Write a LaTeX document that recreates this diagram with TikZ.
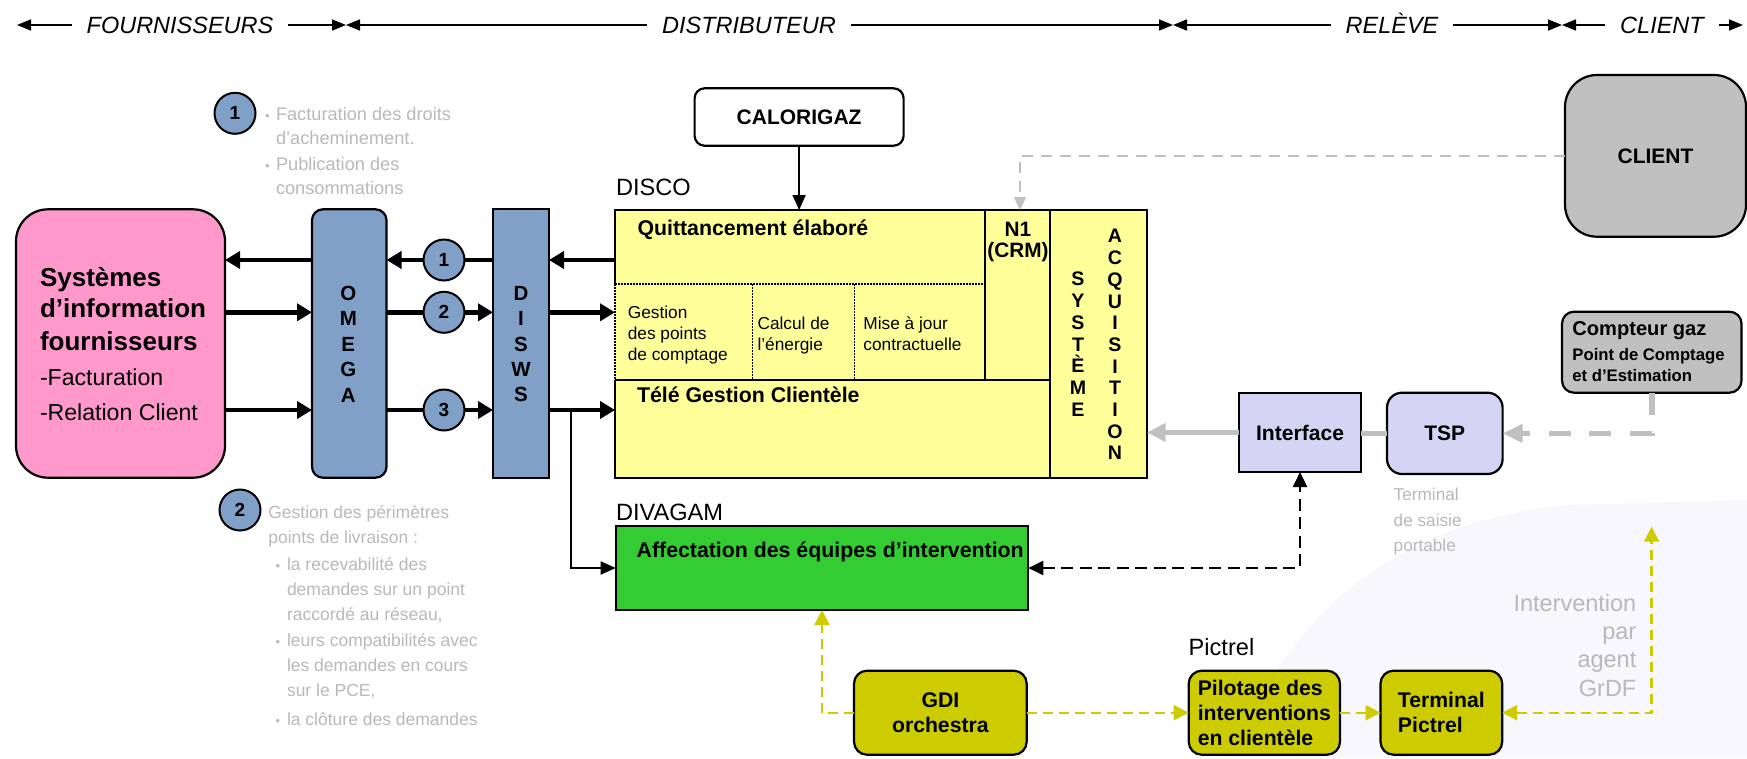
\documentclass[tikz,border=0pt]{standalone}
\usepackage{fontspec}
\setmainfont{Liberation Sans}
\usetikzlibrary{arrows.meta,calc}

\definecolor{pinkbox}{RGB}{255,153,204}
\definecolor{steel}{RGB}{128,160,200}
\definecolor{discoyel}{RGB}{255,255,153}
\definecolor{greenbox}{RGB}{51,204,51}
\definecolor{olivebox}{RGB}{204,204,0}
\definecolor{lavbox}{RGB}{212,212,244}
\definecolor{greybox}{RGB}{192,192,192}
\definecolor{greyline}{RGB}{192,192,192}
\definecolor{greytext}{RGB}{185,185,185}
\definecolor{swoosh}{RGB}{247,247,252}

\newcommand\fsz[2]{\fontsize{#1}{#2}\selectfont}

\tikzset{
  ytip/.tip={Triangle[length=15pt,width=15pt]}
}

\begin{document}
\begin{tikzpicture}[x=1pt,y=-1pt,
  every node/.style={inner sep=0pt,outer sep=0pt},
  box/.style={draw=black,line width=2.2pt,inner sep=0pt,outer sep=0pt,anchor=north west},
  olive/.style={box,fill=olivebox,rounded corners=13pt,minimum height=84pt,
    font=\bfseries\fsz{21.2}{25}},
  lbl/.style={anchor=base west,font=\fsz{23.6}{28}},
  btxt/.style={anchor=base west,font=\bfseries\fsz{21.3}{25}},
  ctxt/.style={anchor=base west,font=\fsz{17.3}{21}},
  gtxt/.style={anchor=base west,text=greytext,font=\fsz{17.5}{21}},
  bul/.style={anchor=base west,text=greytext,font=\fsz{13}{13}},
  hdr/.style={anchor=base,font=\itshape\fsz{23.5}{28},inner xsep=15pt},
  vlet/.style={align=center,font=\bfseries\fsz{20.5}{25.4}},
  numcirc/.style={circle,draw=black,line width=2pt,fill=steel,minimum size=41pt,
    font=\bfseries\fsz{19}{19}},
  harrow/.style={line width=1.6pt,-{Triangle[length=14pt,width=11pt]}},
  big/.style={line width=4.9pt,-{Triangle[length=15pt,width=17pt]}},
  thin/.style={line width=1.8pt,-{Triangle[length=15pt,width=13pt]}},
  blkdash/.style={line width=2.2pt,dash pattern=on 12pt off 6.5pt,
    {Triangle[length=15pt,width=14pt]}-{Triangle[length=15pt,width=14pt]}},
  gthick/.style={line width=5.5pt,draw=greyline},
  gdash/.style={line width=2.2pt,draw=greyline,dash pattern=on 11pt off 8pt,
    -{Triangle[length=13pt,width=12pt]}},
  ydash/.style={line width=2.4pt,draw=olivebox,dash pattern=on 10pt off 6pt},
  dotl/.style={line width=1.5pt,dash pattern=on 1.5pt off 1.5pt},
  solidl/.style={line width=2.2pt}
]
% page and background sweep
\fill[white] (0,0) rectangle (1747,758);
\useasboundingbox (0,0) rectangle (1747,758);
\fill[swoosh] (1230,758) .. controls (1290,610) and (1400,520) .. (1570,505)
  -- (1747,500) -- (1747,758) -- cycle;

% ---------- header bar ----------
\coordinate (s0) at (17,25);
\coordinate (s1) at (346,25);
\coordinate (s2) at (1173,25);
\coordinate (s3) at (1562,25);
\coordinate (s4) at (1743,25);
\node[hdr] (hF) at (180,33.5) {FOURNISSEURS};
\node[hdr] (hD) at (749,33.5) {DISTRIBUTEUR};
\node[hdr] (hR) at (1392,33.5) {RELÈVE};
\node[hdr] (hC) at (1662,33.5) {CLIENT};
\draw[harrow] (hF.west |- s0) -- (s0);
\draw[harrow] (hF.east |- s1) -- (s1);
\draw[harrow] (hD.west |- s1) -- (s1);
\draw[harrow] (hD.east |- s2) -- (s2);
\draw[harrow] (hR.west |- s2) -- (s2);
\draw[harrow] (hR.east |- s3) -- (s3);
\draw[harrow] (hC.west |- s3) -- (s3);
\draw[harrow] (hC.east |- s4) -- (s4);

% ---------- legend 1 ----------
\node[numcirc] (leg1) at (235,113.3) {1};
\node[bul] (la-b1) at (265,120) {•};
\node[bul] (la-b2) at (265,170) {•};
\foreach \t/\yy [count=\i] in {Facturation des droits/120, d’acheminement./144.5,
    Publication des/170, consommations/194}
  \node[gtxt,font=\fsz{18.2}{22}] (la\i) at (276,\yy) {\t};

% ---------- legend 2 ----------
\node[numcirc] (leg2) at (240,510) {2};
\node[gtxt] (lb1) at (268.3,518.3) {Gestion des périmètres};
\node[gtxt] (lb2) at (268.3,543.3) {points de livraison :};
\node[bul] (lb-b1) at (275.5,570.7) {•};
\node[bul] (lb-b2) at (275.5,646.7) {•};
\node[bul] (lb-b3) at (275.5,725) {•};
\foreach \t/\yy [count=\i] in {la recevabilité des/570.7, demandes sur un point/595,
    {raccordé au réseau,}/620, leurs compatibilités avec/646.7,
    les demandes en cours/671.7, {sur le PCE,}/696.7, la clôture des demandes/725}
  \node[gtxt] (lc\i) at (287,\yy) {\t};

% ---------- supplier side ----------
\node[box,fill=pinkbox,rounded corners=32pt,minimum width=209pt,minimum height=268.4pt]
  (pink) at (16,209.3) {};
\node[anchor=base west,font=\bfseries\fsz{26}{30}] (pk1) at (40,286.5) {Systèmes};
\node[anchor=base west,font=\bfseries\fsz{26}{30}] (pk2) at (40,317.7) {d’information};
\node[anchor=base west,font=\bfseries\fsz{26}{30}] (pk3) at (40,350) {fournisseurs};
\node[anchor=base west,font=\fsz{23.1}{28}] (pk4) at (40,385) {-Facturation};
\node[anchor=base west,font=\fsz{23.1}{28}] (pk5) at (40,420.5) {-Relation Client};

\node[box,fill=steel,rounded corners=11pt,minimum width=74.5pt,minimum height=268.4pt]
  (omega) at (312,209.3) {};
\node[vlet] (omegaT) at (348.3,344.2) {O\\M\\E\\G\\A};
\node[box,fill=steel,minimum width=56pt,minimum height=268.4pt]
  (disws) at (493,209.3) {};
\node[vlet] (diswsT) at (521,344.2) {D\\I\\S\\W\\S};

% ---------- DISCO ----------
\node[box,fill=white,rounded corners=10pt,minimum width=209pt,minimum height=57.4pt,
  font=\bfseries\fsz{21}{25}] (calori) at (694.6,88.3) {CALORIGAZ};
\node[lbl] (discoL) at (616,195) {DISCO};
\node[fill=discoyel,minimum width=532pt,minimum height=267.7pt,anchor=north west]
  (disco) at (615,210) {};
% outline and inner partition
\draw[solidl] (615,284) -- (615,210) -- (1147,210) -- (1147,477.7) -- (615,477.7) -- (615,380);
\draw[dotl] (615,284) -- (615,380);
\draw[solidl] (985,210) -- (985,380);
\draw[solidl] (1050,210) -- (1050,477.7);
\draw[solidl] (615,380) -- (1050,380);
\draw[dotl] (615,284) -- (985,284);
\draw[dotl] (752.7,284) -- (752.7,380);
\draw[dotl] (854.4,284) -- (854.4,380);

\node[btxt] (quitt) at (637.5,235) {Quittancement élaboré};
\node[btxt] (tele) at (637,402.7) {Télé Gestion Clientèle};
\node[ctxt] (gp1) at (627.8,318.3) {Gestion};
\node[ctxt] (gp2) at (627.8,339.5) {des points};
\node[ctxt] (gp3) at (627.8,360.5) {de comptage};
\node[ctxt] (ce1) at (757.5,329.3) {Calcul de};
\node[ctxt] (ce2) at (757.5,350.3) {l’énergie};
\node[ctxt] (mj1) at (863.4,329.3) {Mise à jour};
\node[ctxt] (mj2) at (863.4,350.3) {contractuelle};
\node[anchor=base,font=\bfseries\fsz{20.8}{24}] (n1a) at (1018,236.5) {N1};
\node[anchor=base,font=\bfseries\fsz{20.8}{24}] (n1b) at (1018,257.3) {(CRM)};
\node[align=center,font=\bfseries\fsz{19.6}{21.9}] (systeme) at (1078,344.2)
  {S\\Y\\S\\T\\È\\M\\E};
\node[align=center,font=\bfseries\fsz{19.6}{21.7}] (acquis) at (1115,344.7)
  {A\\C\\Q\\U\\I\\S\\I\\T\\I\\O\\N};
\coordinate (n1in) at (1020,210);

% ---------- DIVAGAM ----------
\node[lbl] (divL) at (616,520.7) {DIVAGAM};
\node[box,fill=greenbox,minimum width=412.6pt,minimum height=84pt]
  (divagam) at (615.7,526) {};
\node[btxt] (affect) at (636.7,557.3) {Affectation des équipes d’intervention};

% ---------- Pictrel chain ----------
\node[olive,minimum width=172.7pt,align=center] (gdi) at (854,670.7) {GDI\\orchestra};
\node[lbl] (picL) at (1188.7,655) {Pictrel};
\node[olive,minimum width=151.3pt,align=left] (pilot) at (1188.7,670.7)
  {Pilotage des\\interventions\\en clientèle};
\node[olive,minimum width=121.7pt,align=left] (term) at (1380.5,670.7)
  {Terminal\\Pictrel};
\node[anchor=base east,text=greytext,font=\fsz{23.5}{28}] (iv1) at (1636.3,611.5) {Intervention};
\node[anchor=base east,text=greytext,font=\fsz{23.5}{28}] (iv2) at (1636.3,639.5) {par};
\node[anchor=base east,text=greytext,font=\fsz{23.5}{28}] (iv3) at (1636.3,667.8) {agent};
\node[anchor=base east,text=greytext,font=\fsz{23.5}{28}] (iv4) at (1636.3,696.5) {GrDF};
\coordinate (agent) at (1651.6,526.7);

% ---------- metering side ----------
\node[box,fill=greybox,rounded corners=32pt,minimum width=181pt,minimum height=161.7pt,
  font=\bfseries\fsz{21}{25}] (client) at (1565,75) {CLIENT};
\node[box,fill=greybox,rounded corners=12pt,minimum width=179.5pt,minimum height=81pt]
  (compteur) at (1562,311.7) {};
\node[anchor=base west,font=\bfseries\fsz{20.1}{24}] (cp1) at (1572.4,335) {Compteur gaz};
\node[anchor=base west,font=\bfseries\fsz{16.7}{20}] (cp2) at (1572.4,360) {Point de Comptage};
\node[anchor=base west,font=\bfseries\fsz{16.7}{20}] (cp3) at (1572.4,381.7) {et d’Estimation};
\node[box,fill=lavbox,minimum width=122pt,minimum height=79pt,
  font=\bfseries\fsz{21.1}{25}] (interface) at (1239,393) {Interface};
\node[box,fill=lavbox,rounded corners=15pt,minimum width=115.6pt,minimum height=81.3pt,
  font=\bfseries\fsz{21}{25}] (tsp) at (1387,392.7) {TSP};
\node[gtxt,font=\fsz{17.2}{21}] (ts1) at (1393.7,500) {Terminal};
\node[gtxt,font=\fsz{17.2}{21}] (ts2) at (1393.7,526.7) {de saisie};
\node[gtxt,font=\fsz{17.2}{21}] (ts3) at (1393.7,551.7) {portable};

% ---------- connectors ----------
\coordinate (r1) at (0,260);
\coordinate (r2) at (0,312.3);
\coordinate (r3) at (0,410);
\draw[big] (disco.west |- r1) -- (disws.east |- r1);
\draw[big] (disws.west |- r1) -- (omega.east |- r1);
\draw[big] (omega.west |- r1) -- (pink.east |- r1);
\draw[big] (pink.east |- r2) -- (omega.west |- r2);
\draw[big] (omega.east |- r2) -- (disws.west |- r2);
\draw[big] (disws.east |- r2) -- (disco.west |- r2);
\draw[big] (pink.east |- r3) -- (omega.west |- r3);
\draw[big] (omega.east |- r3) -- (disws.west |- r3);
\draw[big] (disws.east |- r3) -- (disco.west |- r3);
\node[numcirc] (c1) at (444,260) {1};
\node[numcirc] (c2) at (444,312.3) {2};
\node[numcirc] (c3) at (444,410) {3};

\coordinate (br) at (571,410);
\draw[thin] (br) |- (divagam.west);
\draw[thin] (calori.south) -- (calori.south |- disco.north);
\draw[gdash] (client.west) -| (n1in);
\draw[blkdash] (divagam.east) -| (interface.south);

\draw[gthick,-{Triangle[length=18.6pt,width=17.7pt]}] (interface.west) -- (interface.west -| disco.east);
\draw[gthick] (tsp.west) -- (tsp.west -| interface.east);
\draw[gthick,dash pattern=on 22pt off 18.6pt,-{Triangle[length=20pt,width=17.5pt]}]
  (compteur.south) |- (tsp.east);

\draw[ydash,-{ytip}] (gdi.west) -| (divagam.south);
\draw[ydash,-{ytip}] (gdi.east) -- (pilot.west);
\draw[ydash,-{ytip}] (pilot.east) -- (term.west);
\draw[ydash,{ytip}-{ytip}] (term.east) -| (agent);
\end{tikzpicture}
\end{document}
